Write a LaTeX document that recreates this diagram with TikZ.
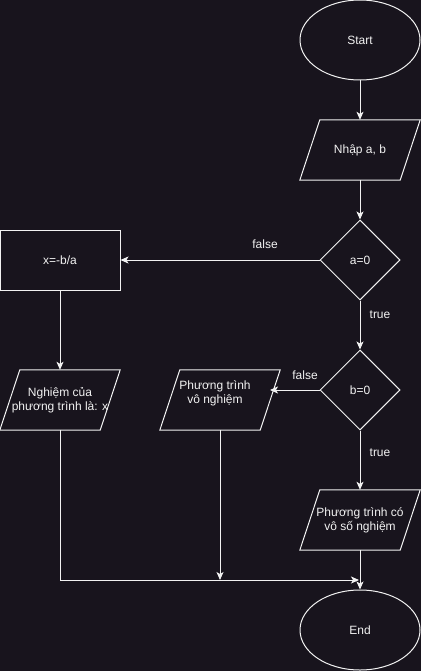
\documentclass[tikz,border=0pt]{standalone}
\usepackage{fontspec}
\setmainfont{Liberation Sans}
\usetikzlibrary{shapes.geometric,arrows.meta,calc}
\definecolor{bgc}{HTML}{18141D}
\definecolor{fg}{HTML}{F2F2F2}
\tikzset{
  base/.style={draw=fg, fill=bgc, text=fg, line width=1pt, font=\fontsize{12}{14}\selectfont, inner sep=0pt, align=center},
  term/.style={base, ellipse, minimum width=120pt, minimum height=80pt},
  dec/.style={base, diamond, minimum width=80pt, minimum height=80pt},
  proc/.style={base, rectangle, minimum width=120pt, minimum height=60pt},
  iobox/.style={text=fg, inner sep=0pt, align=center, font=\fontsize{12}{14}\selectfont, minimum width=120pt, minimum height=60pt},
  conn/.style={draw=fg, line width=1pt, -{Stealth[length=8pt,width=7pt,inset=2pt]}},
  lbl/.style={text=fg, font=\fontsize{12}{14}\selectfont, inner sep=0pt}
}
\newcommand{\paral}[1]{\draw[draw=fg, fill=bgc, line width=1pt] ($(#1.north west)+(20,0)$) -- (#1.north east) -- ($(#1.south east)+(-20,0)$) -- (#1.south west) -- cycle;}
\begin{document}
\begin{tikzpicture}[x=1pt,y=-1pt]
\fill[bgc] (0,0) rectangle (421,671);
\useasboundingbox (0,0) rectangle (421,671);
% nodes
\node[term] (start) at (360,40) {Start};
\node[iobox] (nhap) at (360,150) {};
\paral{nhap}
\node[text=fg, font=\fontsize{12}{14}\selectfont] at (nhap) {Nhập a, b};
\node[dec] (a0) at (360,260) {a=0};
\node[proc] (xb) at (60,260) {x=-b/a};
\node[iobox] (ngh) at (60,400) {};
\paral{ngh}
\node[text=fg, font=\fontsize{12}{14}\selectfont, align=center, inner sep=0pt] at (ngh) {Nghiệm của\\phương trình là: x};
\node[dec] (b0) at (360,390) {b=0};
\node[iobox] (vn) at (220,400) {};
\paral{vn}
\node[text=fg, font=\fontsize{12}{14}\selectfont, align=center, inner sep=0pt] at (215,393) {Phương trình\\vô nghiệm};
\node[iobox] (vs) at (360,520) {};
\paral{vs}
\node[text=fg, font=\fontsize{12}{14}\selectfont, align=center, inner sep=0pt] at (360,520) {Phương trình có\\vô số nghiệm};
\node[term] (end) at (360,630) {End};
\coordinate (vnin) at (270,390);
\coordinate (j) at (359,580);
\coordinate (vnout) at (220,580);
% connectors
\draw[conn] (start.south) -- (nhap.north);
\draw[conn] (nhap.south) -- (a0.north);
\draw[conn] (a0.west) -- (xb.east);
\draw[conn] (a0.south) -- (b0.north);
\draw[conn] (xb.south) -- (ngh.north);
\draw[conn] (b0.west) -- (vnin);
\draw[conn] (b0.south) -- (vs.north);
\draw[conn] (vs.south) -- (end.north);
\draw[conn] (ngh.south) |- (j);
\draw[conn] (vn.south) -- (vnout);
% labels
\node[lbl] at (265,244) {false};
\node[lbl] at (380,315) {true};
\node[lbl] at (305,375) {false};
\node[lbl] at (380,453) {true};
\end{tikzpicture}
\end{document}
